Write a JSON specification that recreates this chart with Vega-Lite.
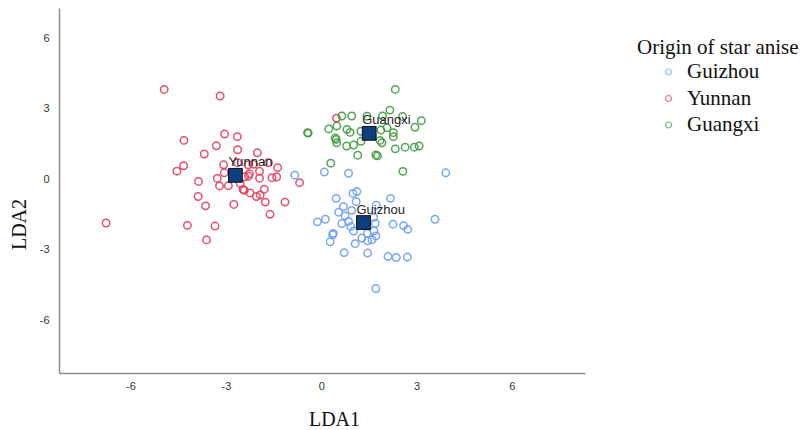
{
  "$schema": "https://vega.github.io/schema/vega-lite/v6.json",
  "width": 526,
  "height": 365,
  "autosize": {"type": "none"},
  "padding": {"left": 59, "top": 8, "right": 218, "bottom": 57},
  "background": "white",
  "config": {
    "view": {"stroke": null},
    "axis": {"grid": false, "ticks": false, "domainColor": "#8c8c8c", "domainWidth": 1.5,
      "labelFont": "Liberation Sans", "labelFontSize": 11, "labelColor": "#333333",
      "titleFont": "Liberation Serif", "titleFontSize": 20, "titleFontWeight": "normal", "titleColor": "#111111"}
  },
  "datasets": {
    "points": [
      {"LDA1": -4.94, "LDA2": 3.83, "origin": "Yunnan"},
      {"LDA1": -3.18, "LDA2": 3.55, "origin": "Yunnan"},
      {"LDA1": -3.04, "LDA2": 1.93, "origin": "Yunnan"},
      {"LDA1": -2.64, "LDA2": 1.82, "origin": "Yunnan"},
      {"LDA1": -4.32, "LDA2": 1.66, "origin": "Yunnan"},
      {"LDA1": -3.30, "LDA2": 1.43, "origin": "Yunnan"},
      {"LDA1": -2.63, "LDA2": 1.26, "origin": "Yunnan"},
      {"LDA1": -2.01, "LDA2": 1.13, "origin": "Yunnan"},
      {"LDA1": -3.68, "LDA2": 1.08, "origin": "Yunnan"},
      {"LDA1": -4.33, "LDA2": 0.58, "origin": "Yunnan"},
      {"LDA1": -4.54, "LDA2": 0.35, "origin": "Yunnan"},
      {"LDA1": -3.07, "LDA2": 0.62, "origin": "Yunnan"},
      {"LDA1": -2.63, "LDA2": 0.71, "origin": "Yunnan"},
      {"LDA1": -2.30, "LDA2": 0.62, "origin": "Yunnan"},
      {"LDA1": -2.13, "LDA2": 0.64, "origin": "Yunnan"},
      {"LDA1": -1.66, "LDA2": 0.71, "origin": "Yunnan"},
      {"LDA1": -1.37, "LDA2": 0.50, "origin": "Yunnan"},
      {"LDA1": -1.94, "LDA2": 0.35, "origin": "Yunnan"},
      {"LDA1": -2.26, "LDA2": 0.24, "origin": "Yunnan"},
      {"LDA1": -2.41, "LDA2": 0.11, "origin": "Yunnan"},
      {"LDA1": -3.05, "LDA2": 0.28, "origin": "Yunnan"},
      {"LDA1": -3.27, "LDA2": 0.04, "origin": "Yunnan"},
      {"LDA1": -1.94, "LDA2": 0.05, "origin": "Yunnan"},
      {"LDA1": -1.55, "LDA2": 0.07, "origin": "Yunnan"},
      {"LDA1": -1.40, "LDA2": 0.10, "origin": "Yunnan"},
      {"LDA1": -3.86, "LDA2": -0.09, "origin": "Yunnan"},
      {"LDA1": -3.20, "LDA2": -0.28, "origin": "Yunnan"},
      {"LDA1": -2.92, "LDA2": -0.27, "origin": "Yunnan"},
      {"LDA1": -2.55, "LDA2": -0.17, "origin": "Yunnan"},
      {"LDA1": -2.46, "LDA2": -0.43, "origin": "Yunnan"},
      {"LDA1": -2.42, "LDA2": -0.47, "origin": "Yunnan"},
      {"LDA1": -1.79, "LDA2": -0.42, "origin": "Yunnan"},
      {"LDA1": -2.24, "LDA2": -0.58, "origin": "Yunnan"},
      {"LDA1": -2.04, "LDA2": -0.73, "origin": "Yunnan"},
      {"LDA1": -1.92, "LDA2": -0.66, "origin": "Yunnan"},
      {"LDA1": -1.76, "LDA2": -0.97, "origin": "Yunnan"},
      {"LDA1": -3.87, "LDA2": -0.73, "origin": "Yunnan"},
      {"LDA1": -3.64, "LDA2": -1.13, "origin": "Yunnan"},
      {"LDA1": -2.75, "LDA2": -1.07, "origin": "Yunnan"},
      {"LDA1": -1.14, "LDA2": -0.97, "origin": "Yunnan"},
      {"LDA1": -1.61, "LDA2": -1.49, "origin": "Yunnan"},
      {"LDA1": -0.68, "LDA2": -0.14, "origin": "Yunnan"},
      {"LDA1": -6.77, "LDA2": -1.86, "origin": "Yunnan"},
      {"LDA1": -4.21, "LDA2": -1.96, "origin": "Yunnan"},
      {"LDA1": -3.34, "LDA2": -1.99, "origin": "Yunnan"},
      {"LDA1": -3.61, "LDA2": -2.58, "origin": "Yunnan"},
      {"LDA1": 0.48, "LDA2": 2.61, "origin": "Yunnan"},
      {"LDA1": -2.29, "LDA2": 0.14, "origin": "Yunnan"},
      {"LDA1": -0.83, "LDA2": 0.18, "origin": "Guizhou"},
      {"LDA1": 0.10, "LDA2": 0.31, "origin": "Guizhou"},
      {"LDA1": 0.86, "LDA2": 0.26, "origin": "Guizhou"},
      {"LDA1": 3.92, "LDA2": 0.28, "origin": "Guizhou"},
      {"LDA1": -0.12, "LDA2": -1.81, "origin": "Guizhou"},
      {"LDA1": 1.00, "LDA2": -0.60, "origin": "Guizhou"},
      {"LDA1": 1.12, "LDA2": -0.52, "origin": "Guizhou"},
      {"LDA1": 0.47, "LDA2": -0.81, "origin": "Guizhou"},
      {"LDA1": 2.18, "LDA2": -0.81, "origin": "Guizhou"},
      {"LDA1": 1.10, "LDA2": -0.95, "origin": "Guizhou"},
      {"LDA1": 0.70, "LDA2": -1.16, "origin": "Guizhou"},
      {"LDA1": 1.73, "LDA2": -1.10, "origin": "Guizhou"},
      {"LDA1": 0.96, "LDA2": -1.32, "origin": "Guizhou"},
      {"LDA1": 0.75, "LDA2": -1.56, "origin": "Guizhou"},
      {"LDA1": 1.65, "LDA2": -1.62, "origin": "Guizhou"},
      {"LDA1": 0.13, "LDA2": -1.70, "origin": "Guizhou"},
      {"LDA1": 0.65, "LDA2": -1.88, "origin": "Guizhou"},
      {"LDA1": 0.86, "LDA2": -1.79, "origin": "Guizhou"},
      {"LDA1": 0.93, "LDA2": -2.01, "origin": "Guizhou"},
      {"LDA1": 1.70, "LDA2": -1.88, "origin": "Guizhou"},
      {"LDA1": 2.26, "LDA2": -1.91, "origin": "Guizhou"},
      {"LDA1": 2.59, "LDA2": -1.97, "origin": "Guizhou"},
      {"LDA1": 2.72, "LDA2": -2.13, "origin": "Guizhou"},
      {"LDA1": 3.58, "LDA2": -1.70, "origin": "Guizhou"},
      {"LDA1": 0.38, "LDA2": -2.30, "origin": "Guizhou"},
      {"LDA1": 0.36, "LDA2": -2.36, "origin": "Guizhou"},
      {"LDA1": 1.02, "LDA2": -2.20, "origin": "Guizhou"},
      {"LDA1": 1.28, "LDA2": -2.50, "origin": "Guizhou"},
      {"LDA1": 1.66, "LDA2": -2.20, "origin": "Guizhou"},
      {"LDA1": 1.72, "LDA2": -2.41, "origin": "Guizhou"},
      {"LDA1": 1.60, "LDA2": -2.57, "origin": "Guizhou"},
      {"LDA1": 1.46, "LDA2": -2.62, "origin": "Guizhou"},
      {"LDA1": 1.07, "LDA2": -2.74, "origin": "Guizhou"},
      {"LDA1": 0.28, "LDA2": -2.66, "origin": "Guizhou"},
      {"LDA1": 0.72, "LDA2": -3.12, "origin": "Guizhou"},
      {"LDA1": 1.46, "LDA2": -3.14, "origin": "Guizhou"},
      {"LDA1": 2.10, "LDA2": -3.29, "origin": "Guizhou"},
      {"LDA1": 2.36, "LDA2": -3.33, "origin": "Guizhou"},
      {"LDA1": 2.71, "LDA2": -3.31, "origin": "Guizhou"},
      {"LDA1": 1.72, "LDA2": -4.65, "origin": "Guizhou"},
      {"LDA1": 1.45, "LDA2": -2.30, "origin": "Guizhou"},
      {"LDA1": 0.55, "LDA2": -1.40, "origin": "Guizhou"},
      {"LDA1": 2.33, "LDA2": 3.83, "origin": "Guangxi"},
      {"LDA1": 0.65, "LDA2": 2.70, "origin": "Guangxi"},
      {"LDA1": 0.96, "LDA2": 2.70, "origin": "Guangxi"},
      {"LDA1": 2.16, "LDA2": 2.95, "origin": "Guangxi"},
      {"LDA1": 1.93, "LDA2": 2.70, "origin": "Guangxi"},
      {"LDA1": 1.44, "LDA2": 2.69, "origin": "Guangxi"},
      {"LDA1": 2.56, "LDA2": 2.68, "origin": "Guangxi"},
      {"LDA1": 3.15, "LDA2": 2.50, "origin": "Guangxi"},
      {"LDA1": 2.95, "LDA2": 2.22, "origin": "Guangxi"},
      {"LDA1": -0.43, "LDA2": 1.99, "origin": "Guangxi"},
      {"LDA1": -0.41, "LDA2": 1.97, "origin": "Guangxi"},
      {"LDA1": 0.24, "LDA2": 2.15, "origin": "Guangxi"},
      {"LDA1": 0.49, "LDA2": 2.27, "origin": "Guangxi"},
      {"LDA1": 0.81, "LDA2": 2.13, "origin": "Guangxi"},
      {"LDA1": 0.91, "LDA2": 2.00, "origin": "Guangxi"},
      {"LDA1": 0.44, "LDA2": 1.76, "origin": "Guangxi"},
      {"LDA1": 0.47, "LDA2": 1.70, "origin": "Guangxi"},
      {"LDA1": 0.49, "LDA2": 1.56, "origin": "Guangxi"},
      {"LDA1": 0.80, "LDA2": 1.42, "origin": "Guangxi"},
      {"LDA1": 1.02, "LDA2": 1.46, "origin": "Guangxi"},
      {"LDA1": 1.25, "LDA2": 1.62, "origin": "Guangxi"},
      {"LDA1": 1.85, "LDA2": 1.66, "origin": "Guangxi"},
      {"LDA1": 1.88, "LDA2": 2.10, "origin": "Guangxi"},
      {"LDA1": 2.07, "LDA2": 2.20, "origin": "Guangxi"},
      {"LDA1": 2.27, "LDA2": 1.99, "origin": "Guangxi"},
      {"LDA1": 2.27, "LDA2": 1.82, "origin": "Guangxi"},
      {"LDA1": 2.33, "LDA2": 1.30, "origin": "Guangxi"},
      {"LDA1": 2.64, "LDA2": 1.37, "origin": "Guangxi"},
      {"LDA1": 2.93, "LDA2": 1.37, "origin": "Guangxi"},
      {"LDA1": 3.08, "LDA2": 1.42, "origin": "Guangxi"},
      {"LDA1": 1.15, "LDA2": 1.03, "origin": "Guangxi"},
      {"LDA1": 1.72, "LDA2": 1.04, "origin": "Guangxi"},
      {"LDA1": 1.77, "LDA2": 1.00, "origin": "Guangxi"},
      {"LDA1": 0.30, "LDA2": 0.69, "origin": "Guangxi"},
      {"LDA1": 2.57, "LDA2": 0.34, "origin": "Guangxi"},
      {"LDA1": 1.91, "LDA2": 1.56, "origin": "Guangxi"},
      {"LDA1": 1.25, "LDA2": 2.05, "origin": "Guangxi"}
    ],
    "centroids": [
      {"LDA1": -2.70, "LDA2": 0.17, "origin": "Yunnan"},
      {"LDA1": 1.51, "LDA2": 1.96, "origin": "Guangxi"},
      {"LDA1": 1.33, "LDA2": -1.84, "origin": "Guizhou"}
    ]
  },
  "layer": [
    {
      "data": {"name": "points"},
      "mark": {"type": "point", "shape": "circle", "filled": false, "size": 55, "strokeWidth": 1.5, "opacity": 0.9},
      "encoding": {
        "x": {"field": "LDA1", "type": "quantitative", "scale": {"domain": [-8.25, 8.3], "nice": false, "zero": false},
          "axis": {"values": [-6, -3, 0, 3, 6], "labelExpr": "'' + datum.value", "title": "LDA1", "labelPadding": 7, "titleX": 275, "titleY": 46, "titleBaseline": "middle"}},
        "y": {"field": "LDA2", "type": "quantitative", "scale": {"domain": [-8.25, 7.3], "nice": false, "zero": false},
          "axis": {"values": [-6, -3, 0, 3, 6], "labelExpr": "'' + datum.value", "title": "LDA2", "labelPadding": 10, "titleX": -40, "titleY": 216, "titleBaseline": "middle"}},
        "color": {"field": "origin", "type": "nominal",
          "scale": {"domain": ["Guizhou", "Yunnan", "Guangxi"], "range": ["#6b9ef0", "#e23c5c", "#3f9b3f"]},
          "legend": {"title": "Origin of star anise", "orient": "none", "legendX": 578, "legendY": 28.5,
            "titleFont": "Liberation Serif", "titleFontSize": 21, "titleFontWeight": "normal", "titleColor": "#111111", "titlePadding": 4,
            "labelFont": "Liberation Serif", "labelFontSize": 21, "labelColor": "#111111", "labelOffset": 8,
            "symbolType": "circle", "symbolSize": 36, "symbolStrokeWidth": 1.2, "symbolOpacity": 0.7, "symbolOffset": 21, "rowPadding": 4.5}}
      }
    },
    {
      "data": {"name": "centroids"},
      "mark": {"type": "square", "size": 190, "color": "#0b3f7d", "stroke": "#111111", "strokeWidth": 1, "opacity": 1},
      "encoding": {
        "x": {"field": "LDA1", "type": "quantitative"},
        "y": {"field": "LDA2", "type": "quantitative"}
      }
    },
    {
      "data": {"name": "centroids"},
      "mark": {"type": "text", "font": "Liberation Sans", "fontSize": 13, "color": "#222222", "align": "left", "baseline": "middle", "dx": -7, "dy": -13},
      "encoding": {
        "x": {"field": "LDA1", "type": "quantitative"},
        "y": {"field": "LDA2", "type": "quantitative"},
        "text": {"field": "origin"}
      }
    }
  ]
}
